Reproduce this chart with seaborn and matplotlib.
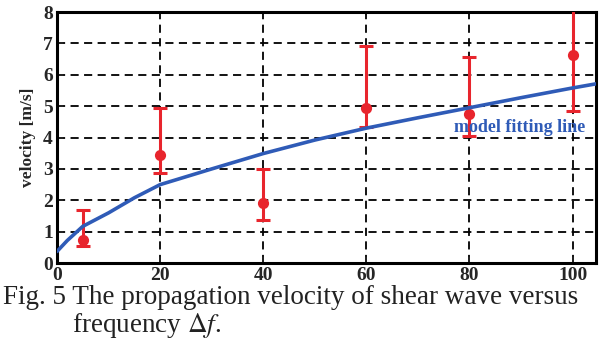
import numpy as np
import pandas as pd
import seaborn as sns
import matplotlib.pyplot as plt

freq = [5, 20, 40, 60, 80, 100]
velocity = [0.73, 3.44, 1.91, 4.93, 4.74, 6.63]
err_low = [0.55, 2.86, 1.38, 4.32, 4.06, 4.83]
err_high = [1.70, 4.95, 2.99, 6.91, 6.56, 8.45]

# Courbe du modèle
fit_freq = [0, 2, 5, 10, 15, 20, 30, 40, 50, 60, 70, 80, 90, 100, 104.5]
fit_vel = [0.37, 0.72, 1.17, 1.60, 2.08, 2.50, 3.00, 3.49, 3.92, 4.30, 4.63, 4.95, 5.27, 5.58, 5.71]

x_ticks = [0, 20, 40, 60, 80, 100]
y_ticks = [0, 1, 2, 3, 4, 5, 6, 7, 8]

sns.set_style("ticks")
plt.rcParams["font.family"] = ["Liberation Serif", "DejaVu Serif"]
plt.rcParams["mathtext.fontset"] = "stix"

RED = "#e8252d"
BLUE = "#2f5bb7"

df = pd.DataFrame({"freq": freq, "velocity": velocity})
fit_df = pd.DataFrame({"freq": fit_freq, "velocity": fit_vel})

fig = plt.figure(figsize=(6.0, 3.43), dpi=100)
ax = fig.add_axes([0.095, 0.233, 0.898, 0.732])

ax.grid(True, color="black", linestyle=(0, (4.5, 3)), linewidth=1.3)
ax.set_axisbelow(True)

yerr = [np.array(velocity) - np.array(err_low), np.array(err_high) - np.array(velocity)]
ax.errorbar(freq, velocity, yerr=yerr, fmt="none", ecolor=RED, elinewidth=2.2,
            capsize=5, capthick=2.2, zorder=3)
sns.scatterplot(data=df, x="freq", y="velocity", color=RED, s=65, edgecolor=RED,
                linewidth=0, zorder=4, ax=ax)
sns.lineplot(data=fit_df, x="freq", y="velocity", color=BLUE, linewidth=2.6,
             zorder=5, ax=ax)

ax.text(89.7, 4.32, "model fitting line", color=BLUE, fontsize=13,
        fontweight="bold", ha="center", va="center", zorder=6)

ax.set_xlim(0, 104.5)
ax.set_ylim(0, 8)
ax.set_xticks(x_ticks)
ax.set_yticks(y_ticks)
ax.tick_params(direction="in", length=4, width=1.2, labelsize=14, pad=3)
for lab in ax.get_xticklabels() + ax.get_yticklabels():
    lab.set_fontweight("bold")
ax.set_xlabel("")
ax.set_ylabel("velocity [m/s]", fontsize=12.5, fontweight="bold", labelpad=5)
for sp in ax.spines.values():
    sp.set_linewidth(2.2)
    sp.set_color("black")
    sp.set_visible(True)

fig.text(0.005, 0.134, "Fig. 5 The propagation velocity of shear wave versus",
         fontsize=19.5, ha="left", va="center", color="#222222")
fig.text(0.12, 0.052, r"frequency $\Delta f$.", fontsize=19.5, ha="left",
         va="center", color="#222222")

plt.savefig("out.png", dpi=100)
plt.close()
